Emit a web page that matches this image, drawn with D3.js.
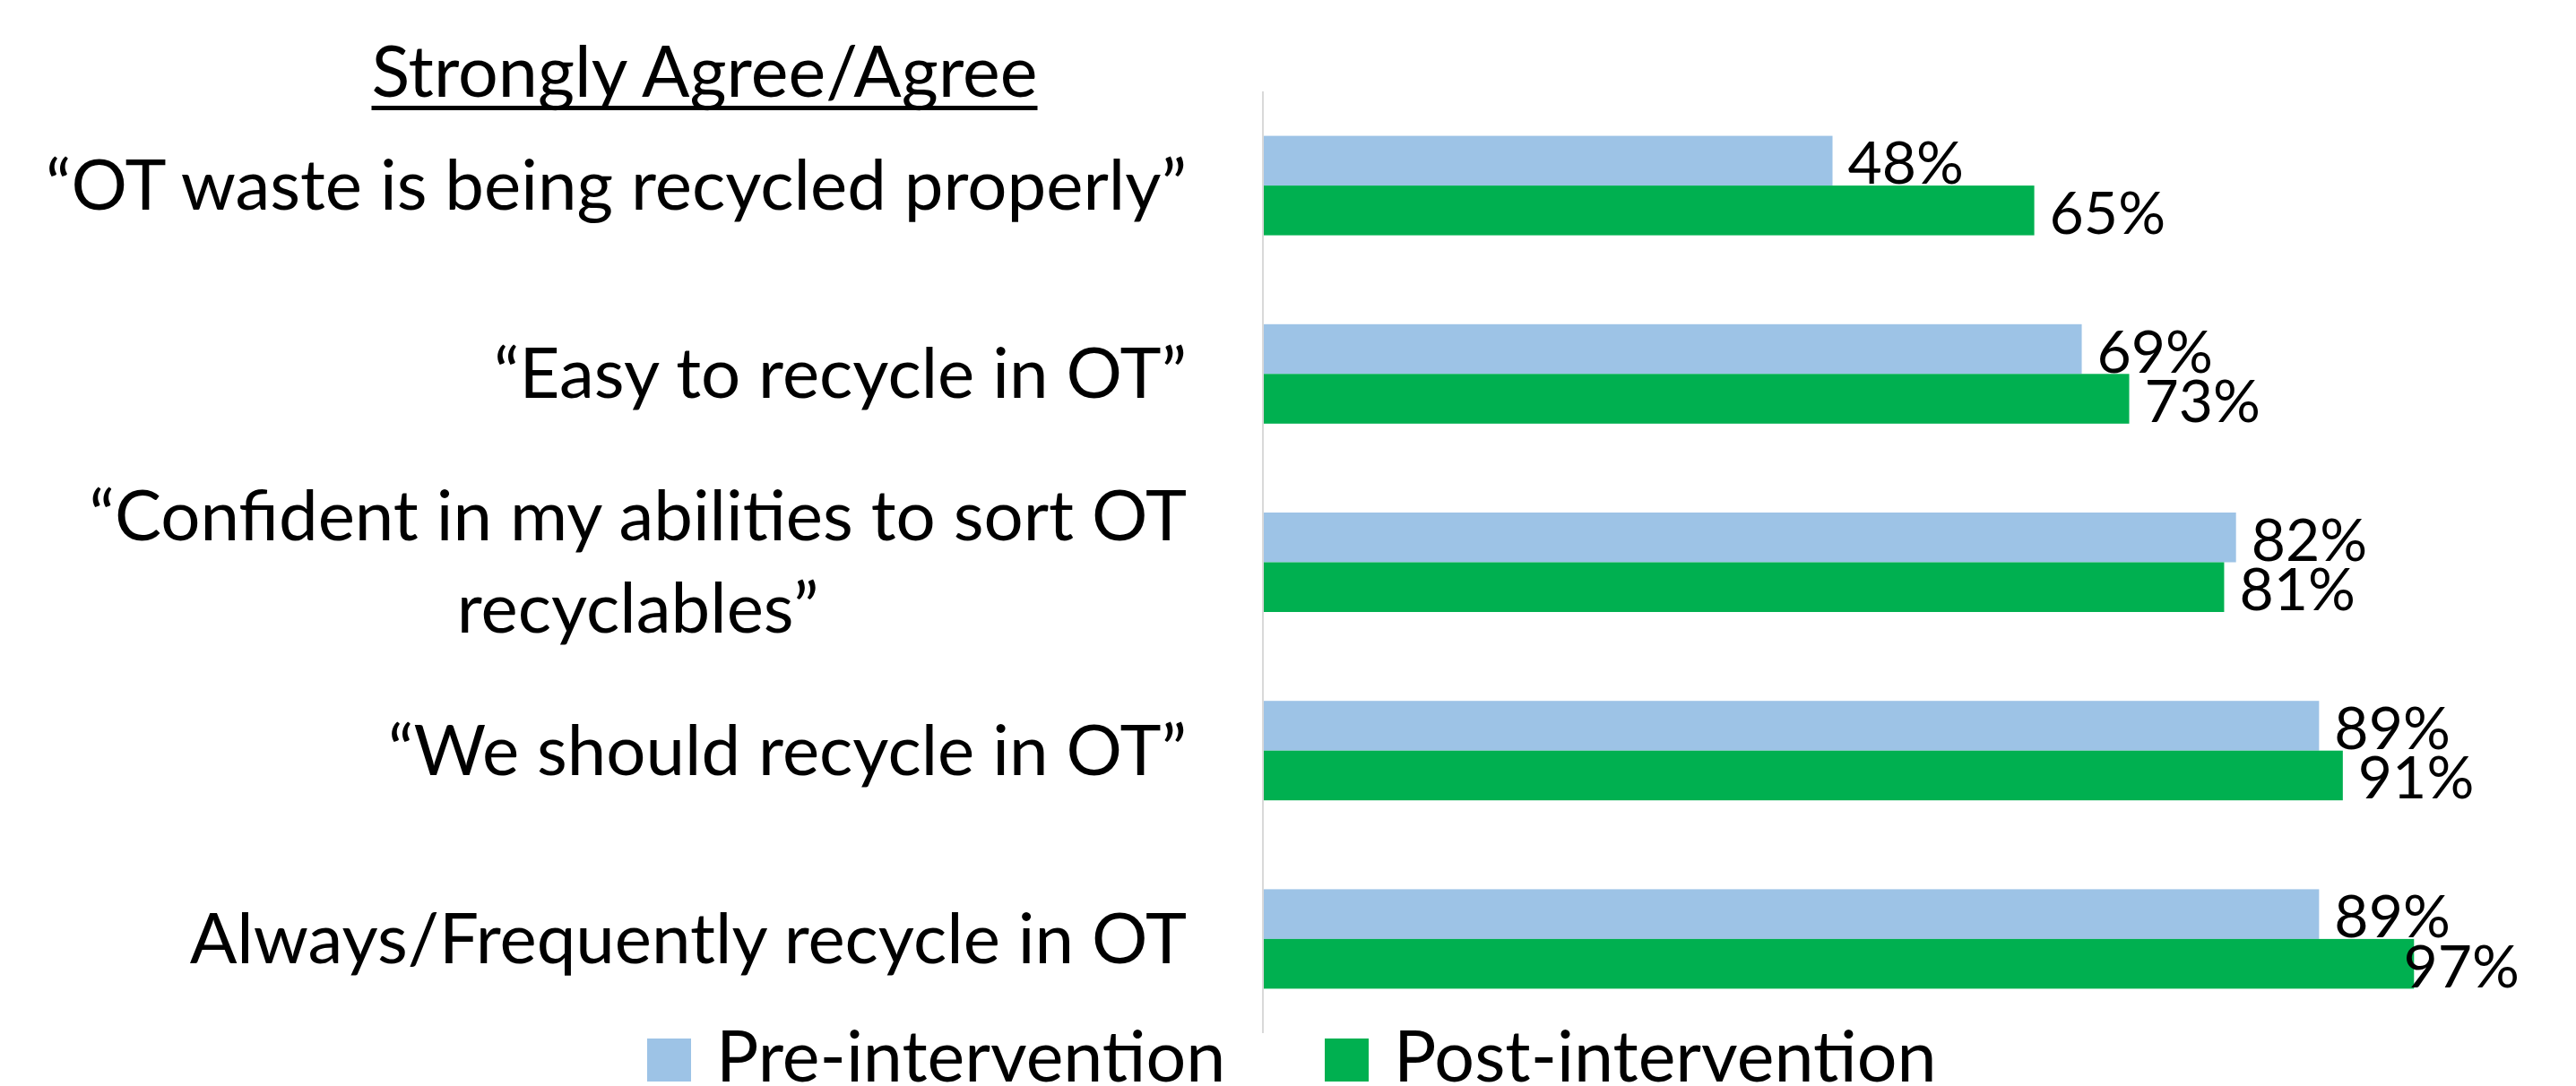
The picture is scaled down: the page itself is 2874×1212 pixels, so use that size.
<!DOCTYPE html>
<html>
<head>
<meta charset="utf-8">
<script src="https://cdn.jsdelivr.net/npm/d3@7"></script>
<style>
  html, body { margin: 0; padding: 0; background: #fff; }
  svg { display: block; }
  text { font-family: Lato, 'Open Sans', sans-serif; fill: #000; }
</style>
</head>
<body>
<svg id="chart" width="2874" height="1212"></svg>
<script>
'use strict';

// ── Data ────────────────────────────────────────────────────────
const categories = [
  '\u201COT waste is being recycled properly\u201D',
  '\u201CEasy to recycle in OT\u201D',
  '\u201CConfident in my abilities to sort OT recyclables\u201D',
  '\u201CWe should recycle in OT\u201D',
  'Always/Frequently recycle in OT',
];
const seriesNames = ['Pre-intervention', 'Post-intervention'];
const preValues   = [48, 69, 82, 89, 89];
const postValues  = [65, 73, 81, 91, 97];
const chartTitle  = 'Strongly Agree/Agree';

const COLOR_PRE  = '#9DC3E6';
const COLOR_POST = '#00B050';

const WIDTH  = 2874;
const HEIGHT = 1212;

const svg = d3.select('#chart');
svg.append('rect').attr('width', WIDTH).attr('height', HEIGHT).attr('fill', '#fff');

// ── Scales ──────────────────────────────────────────────────────
const x = d3.scaleLinear().domain([0, 100]).range([1409, 2733]);

const y = d3.scaleBand()
  .domain(categories)
  .range([102, 1153])
  .paddingInner(0.472)
  .paddingOuter(0.236);

const ySeries = d3.scaleBand()
  .domain(seriesNames)
  .range([0, y.bandwidth()]);

const rows = categories.map((c, i) => ({
  cat: c,
  values: [
    { series: seriesNames[0], value: preValues[i],  color: COLOR_PRE },
    { series: seriesNames[1], value: postValues[i], color: COLOR_POST },
  ],
}));

// ── Axis line ───────────────────────────────────────────────────
svg.append('line')
  .attr('x1', x(0)).attr('x2', x(0))
  .attr('y1', y.range()[0]).attr('y2', y.range()[1])
  .attr('stroke', '#d9d9d9')
  .attr('stroke-width', 2);

// ── Bars ────────────────────────────────────────────────────────
const groups = svg.append('g').selectAll('g.row')
  .data(rows)
  .join('g')
    .attr('class', 'row')
    .attr('transform', d => `translate(0,${y(d.cat)})`);

groups.selectAll('rect')
  .data(d => d.values)
  .join('rect')
    .attr('x', x(0) + 1)
    .attr('y', d => ySeries(d.series))
    .attr('width', d => x(d.value) - x(0) - 1)
    .attr('height', ySeries.bandwidth())
    .attr('fill', d => d.color);

// Value labels, kept inside the plot area on the right
const LABEL_RIGHT = 2811;
groups.selectAll('text.value')
  .data(d => d.values)
  .join('text')
    .attr('class', 'value')
    .attr('y', d => ySeries(d.series) + ySeries.bandwidth() / 2 + 26)
    .style('font-size', '66px')
    .text(d => d.value + '%')
    .attr('x', function(d) {
      const w = this.getComputedTextLength();
      return Math.min(x(d.value) + 17, LABEL_RIGHT - w);
    });

// ── Category labels ─────────────────────────────────────────────
const LABEL_X   = 1324;
const MAX_LABEL = 1420;
const LINE_GAP  = 103;

categories.forEach(cat => {
  const cy = y(cat) + y.bandwidth() / 2;
  const t = svg.append('text').style('font-size', '78px');

  // Wrap words into lines no wider than MAX_LABEL
  const words = cat.split(' ');
  const lines = [];
  let line = [];
  words.forEach(w => {
    line.push(w);
    t.text(line.join(' '));
    if (t.node().getComputedTextLength() > MAX_LABEL && line.length > 1) {
      line.pop();
      lines.push(line.join(' '));
      line = [w];
    }
  });
  lines.push(line.join(' '));
  t.text(null);

  // Lines are centred on each other, block right-aligned
  const widths = lines.map(l => { t.text(l); return t.node().getComputedTextLength(); });
  t.text(null);
  const blockW = d3.max(widths);
  const centerX = LABEL_X - blockW / 2;
  const firstBase = cy + 27 - (lines.length - 1) * LINE_GAP / 2;

  t.attr('text-anchor', 'middle')
    .selectAll('tspan')
    .data(lines)
    .join('tspan')
      .attr('x', centerX)
      .attr('y', (d, i) => firstBase + i * LINE_GAP)
      .text(d => d);
});

// ── Title ───────────────────────────────────────────────────────
const title = svg.append('text')
  .attr('x', 786)
  .attr('y', 108)
  .attr('text-anchor', 'middle')
  .style('font-size', '79px')
  .text(chartTitle);
const tw = title.node().getComputedTextLength();
svg.append('rect')
  .attr('x', 786 - tw / 2)
  .attr('y', 118)
  .attr('width', tw)
  .attr('height', 5)
  .attr('fill', '#000');

// ── Legend ──────────────────────────────────────────────────────
const legendX = [722, 1478];
const legend = svg.append('g').selectAll('g.legend')
  .data(seriesNames)
  .join('g')
    .attr('class', 'legend')
    .attr('transform', (d, i) => `translate(${legendX[i]},1159)`);

legend.append('rect')
  .attr('width', 49)
  .attr('height', 48)
  .attr('fill', (d, i) => i === 0 ? COLOR_PRE : COLOR_POST);

legend.append('text')
  .attr('x', 77)
  .attr('y', 48)
  .style('font-size', '79px')
  .text(d => d);
</script>
</body>
</html>
